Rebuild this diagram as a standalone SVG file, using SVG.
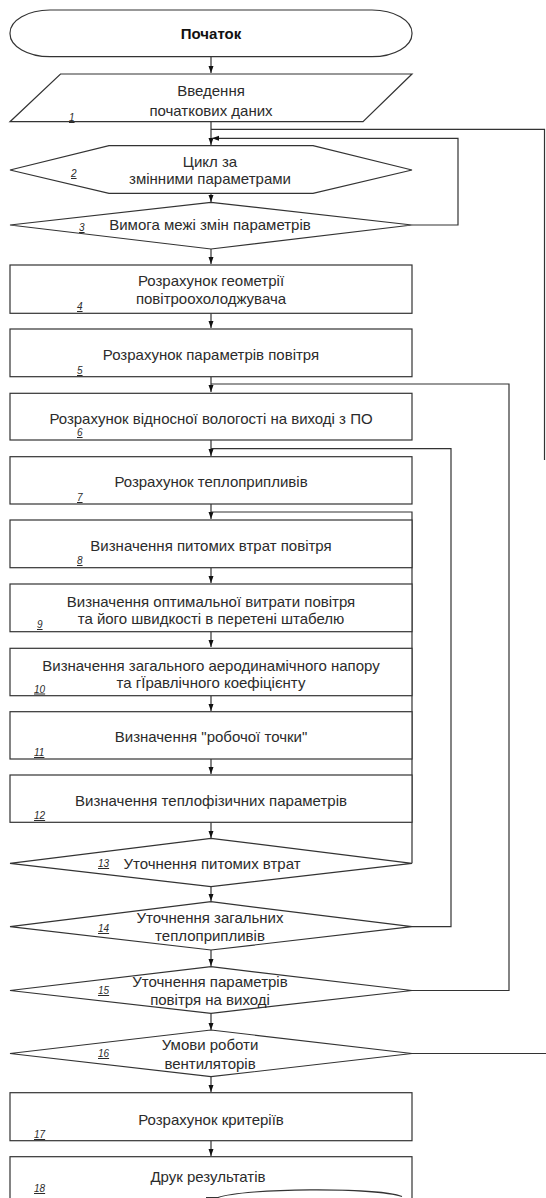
<svg xmlns="http://www.w3.org/2000/svg" width="546" height="1198" viewBox="0 0 546 1198">
<style>
.n{fill:#fff;stroke:#333;stroke-width:1.2}
.t{font-family:"Liberation Sans",Arial,sans-serif;font-size:15px;fill:#2b2b2b;text-anchor:middle}
.b{font-weight:bold;fill:#111}
.l{font-family:"Liberation Sans",Arial,sans-serif;font-size:10px;font-style:italic;fill:#2b2b2b;text-decoration:underline}
.c{fill:none;stroke:#333;stroke-width:1.2}
</style>
<defs>
<marker id="a" markerUnits="userSpaceOnUse" markerWidth="8" markerHeight="6" refX="7" refY="3" orient="auto"><path d="M0,0.5 L7,3 L0,5.5 z" fill="#111"/></marker>
</defs>
<g id="connectors">
<path class="c" d="M211,57 V73" marker-end="url(#a)"/>
<path class="c" d="M211,122 V145" marker-end="url(#a)"/>
<path class="c" d="M211,193 V202" marker-end="url(#a)"/>
<path class="c" d="M211,249 V264" marker-end="url(#a)"/>
<path class="c" d="M211,313 V328" marker-end="url(#a)"/>
<path class="c" d="M211,377 V392" marker-end="url(#a)"/>
<path class="c" d="M211,440 V456" marker-end="url(#a)"/>
<path class="c" d="M211,504 V519" marker-end="url(#a)"/>
<path class="c" d="M211,568 V583" marker-end="url(#a)"/>
<path class="c" d="M211,632 V647" marker-end="url(#a)"/>
<path class="c" d="M211,696 V711" marker-end="url(#a)"/>
<path class="c" d="M211,759 V774" marker-end="url(#a)"/>
<path class="c" d="M211,822 V838" marker-end="url(#a)"/>
<path class="c" d="M211,887 V901" marker-end="url(#a)"/>
<path class="c" d="M211,950 V966" marker-end="url(#a)"/>
<path class="c" d="M211,1013 V1030" marker-end="url(#a)"/>
<path class="c" d="M211,1077 V1092" marker-end="url(#a)"/>
<path class="c" d="M211,1141 V1156" marker-end="url(#a)"/>
<path class="c" d="M211,129.3 H544.5 V460"/>
<path class="c" d="M412,225 H458 V138.3 H212" marker-end="url(#a)"/>
<path class="c" d="M412,990.5 H509 V384 H211"/>
<path class="c" d="M412,926.7 H451 V448.7 H211"/>
<path class="c" d="M412,863.3 V512 H211"/>
<path class="c" d="M412,1053.5 H546"/>
</g>
<g id="start">
<rect class="n" x="10" y="10" width="402" height="46.7" rx="40" ry="23"/>
<text class="t b" x="211" y="39">Початок</text>
</g>
<g id="n1">
<polygon class="n" points="60.5,74 412,74 363,121.7 10,121.7"/>
<text class="t" x="211" y="95.5">Введення</text>
<text class="t" x="211" y="115.5">початкових даних</text>
<text class="l" x="69" y="121">1</text>
</g>
<g id="n2">
<polygon class="n" points="10,170 109,145.7 313,145.7 412,170 313,193.3 109,193.3"/>
<text class="t" x="210" y="167">Цикл за</text>
<text class="t" x="210" y="183.5">змінними параметрами</text>
<text class="l" x="71" y="177">2</text>
</g>
<g id="n3">
<polygon class="n" points="10,225 211,202.3 412,225 211,249"/>
<text class="t" x="210" y="230">Вимога межі змін параметрів</text>
<text class="l" x="79" y="231">3</text>
</g>
<g id="n4">
<rect class="n" x="10" y="265" width="402" height="48.3"/>
<text class="t" x="211" y="285.5">Розрахунок геометрії</text>
<text class="t" x="211" y="303.5">повітроохолоджувача</text>
<text class="l" x="77" y="310">4</text>
</g>
<g id="n5">
<rect class="n" x="10" y="329" width="402" height="47.7"/>
<text class="t" x="211" y="359.5">Розрахунок параметрів повітря</text>
<text class="l" x="77" y="374">5</text>
</g>
<g id="n6">
<rect class="n" x="10" y="393.3" width="402" height="46.7"/>
<text class="t" x="211" y="423.5">Розрахунок відносної вологості на виході з ПО</text>
<text class="l" x="77" y="436">6</text>
</g>
<g id="n7">
<rect class="n" x="10" y="456.7" width="402" height="47.3"/>
<text class="t" x="211" y="487">Розрахунок теплоприпливів</text>
<text class="l" x="77" y="501">7</text>
</g>
<g id="n8">
<rect class="n" x="10" y="520" width="402" height="47.7"/>
<text class="t" x="211" y="550.5">Визначення питомих втрат повітря</text>
<text class="l" x="77" y="564">8</text>
</g>
<g id="n9">
<rect class="n" x="10" y="584" width="402" height="47.7"/>
<text class="t" x="211" y="607">Визначення оптимальної витрати повітря</text>
<text class="t" x="211" y="623.5">та його швидкості в перетені штабелю</text>
<text class="l" x="37" y="628">9</text>
</g>
<g id="n10">
<rect class="n" x="10" y="648.3" width="402" height="47.4"/>
<text class="t" x="211" y="671">Визначення загального аеродинамічного напору</text>
<text class="t" x="211" y="687.5">та гЇравлічного коефіцієнту</text>
<text class="l" x="34" y="692.5">10</text>
</g>
<g id="n11">
<rect class="n" x="10" y="711.7" width="402" height="47.3"/>
<text class="t" x="211" y="742">Визначення "робочої точки"</text>
<text class="l" x="34" y="756">11</text>
</g>
<g id="n12">
<rect class="n" x="10" y="775" width="402" height="47.3"/>
<text class="t" x="211" y="805.5">Визначення теплофізичних параметрів</text>
<text class="l" x="34" y="819">12</text>
</g>
<g id="n13">
<polygon class="n" points="10,863.3 211,838.3 412,863.3 211,886.7"/>
<text class="t" x="212" y="868.5">Уточнення питомих втрат</text>
<text class="l" x="98" y="867">13</text>
</g>
<g id="n14">
<polygon class="n" points="10,926.7 211,901.7 412,926.7 211,950"/>
<text class="t" x="210" y="922.5">Уточнення загальних</text>
<text class="t" x="210" y="941">теплоприпливів</text>
<text class="l" x="98" y="932">14</text>
</g>
<g id="n15">
<polygon class="n" points="10,990.5 211,966.7 412,990.5 211,1013.3"/>
<text class="t" x="210" y="987">Уточнення параметрів</text>
<text class="t" x="210" y="1005">повітря на виході</text>
<text class="l" x="98" y="994">15</text>
</g>
<g id="n16">
<polygon class="n" points="10,1053.5 211,1030 412,1053.5 211,1076.7"/>
<text class="t" x="210" y="1050">Умови роботи</text>
<text class="t" x="210" y="1068.5">вентиляторів</text>
<text class="l" x="98" y="1057">16</text>
</g>
<g id="n17">
<rect class="n" x="10" y="1092.7" width="402" height="48"/>
<text class="t" x="211" y="1124.5">Розрахунок критеріїв</text>
<text class="l" x="34" y="1138">17</text>
</g>
<g id="n18">
<rect class="n" x="10" y="1156.7" width="402" height="50"/>
<text class="t" x="208" y="1182">Друк результатів</text>
<text class="l" x="34" y="1192">18</text>
</g>
<g id="end">
<path class="c" d="M206,1197.5 H218 C245,1188 375,1187 402,1196.5"/>
</g>
</svg>
